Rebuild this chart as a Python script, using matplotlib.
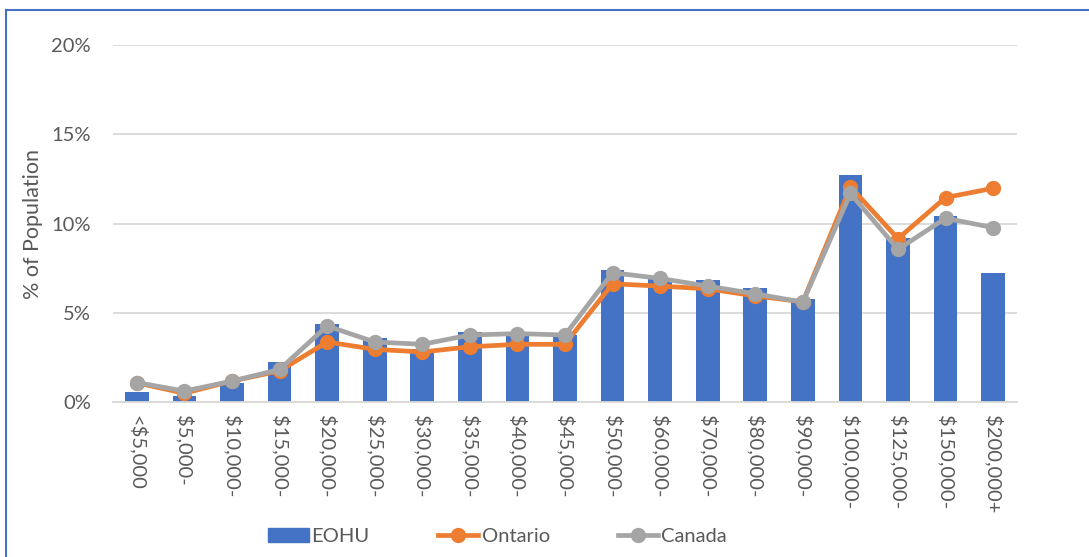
import matplotlib.pyplot as plt
import numpy as np
from matplotlib.lines import Line2D
from matplotlib.patches import Patch

categorias = ['<$5,000', '$5,000-', '$10,000-', '$15,000-', '$20,000-', '$25,000-',
              '$30,000-', '$35,000-', '$40,000-', '$45,000-', '$50,000-', '$60,000-',
              '$70,000-', '$80,000-', '$90,000-', '$100,000-', '$125,000-', '$150,000-',
              '$200,000+']

eohu = [0.58, 0.36, 1.1, 2.25, 4.4, 3.6, 3.0, 3.95, 3.7, 3.75,
        7.4, 6.9, 6.85, 6.4, 5.8, 12.7, 9.2, 10.4, 7.25]
ontario = [1.08, 0.5, 1.18, 1.75, 3.37, 2.96, 2.81, 3.1, 3.24, 3.24,
           6.63, 6.5, 6.35, 5.95, 5.62, 12.06, 9.16, 11.46, 11.98]
canada = [1.1, 0.62, 1.18, 1.83, 4.27, 3.37, 3.24, 3.76, 3.84, 3.76,
          7.25, 6.93, 6.5, 6.07, 5.6, 11.69, 8.56, 10.3, 9.78]

azul = '#4472C4'
naranja = '#ED7D31'
gris = '#A5A5A5'
texto = '#595959'

plt.rcParams['font.family'] = ['Lato', 'DejaVu Sans']

fig = plt.figure(figsize=(10.89, 5.57), dpi=100)
ax = fig.add_axes([0.1038, 0.278, 0.830, 0.641])

x = np.arange(len(categorias))
ax.bar(x, eohu, width=0.5, color=azul, zorder=2)
ax.plot(x, ontario, color=naranja, lw=3.4, marker='o', ms=10, zorder=3)
ax.plot(x, canada, color=gris, lw=3.4, marker='o', ms=10, zorder=4)

ax.set_xlim(-0.5, len(categorias) - 0.5)
ax.set_ylim(0, 20)
ax.set_yticks([0, 5, 10, 15, 20])
ax.set_yticklabels(['0%', '5%', '10%', '15%', '20%'])
ax.set_xticks(x)
ax.set_xticklabels(categorias, rotation=-90)
ax.tick_params(axis='both', length=0, labelsize=14.5, colors=texto)
ax.tick_params(axis='y', pad=16)
ax.tick_params(axis='x', pad=9)
ax.grid(axis='y', color='#D9D9D9', lw=1.3, zorder=0)
for lado in ['top', 'right', 'left']:
    ax.spines[lado].set_visible(False)
ax.spines['bottom'].set_color('#D9D9D9')
ax.spines['bottom'].set_linewidth(1.3)
ax.set_ylabel('% of Population', fontsize=15.5, color=texto, labelpad=6)

manijas = [Patch(color=azul),
           Line2D([], [], color=naranja, lw=3.4, marker='o', ms=10),
           Line2D([], [], color=gris, lw=3.4, marker='o', ms=10)]
fig.legend(manijas, ['EOHU', 'Ontario', 'Canada'], loc='center', ncol=3,
           bbox_to_anchor=(0.457, 0.036), frameon=False, fontsize=14.5,
           labelcolor=texto, handlelength=2.0, handleheight=0.7,
           handletextpad=0.15, columnspacing=3.4)

# marco del recuadro
fig.add_artist(Line2D([0.0055, 1.0], [0.982, 0.982], color=azul, lw=1.5,
                      transform=fig.transFigure))
fig.add_artist(Line2D([0.0055, 0.0055], [0.0, 0.982], color=azul, lw=1.5,
                      transform=fig.transFigure))

fig.savefig('out.png', dpi=100)
